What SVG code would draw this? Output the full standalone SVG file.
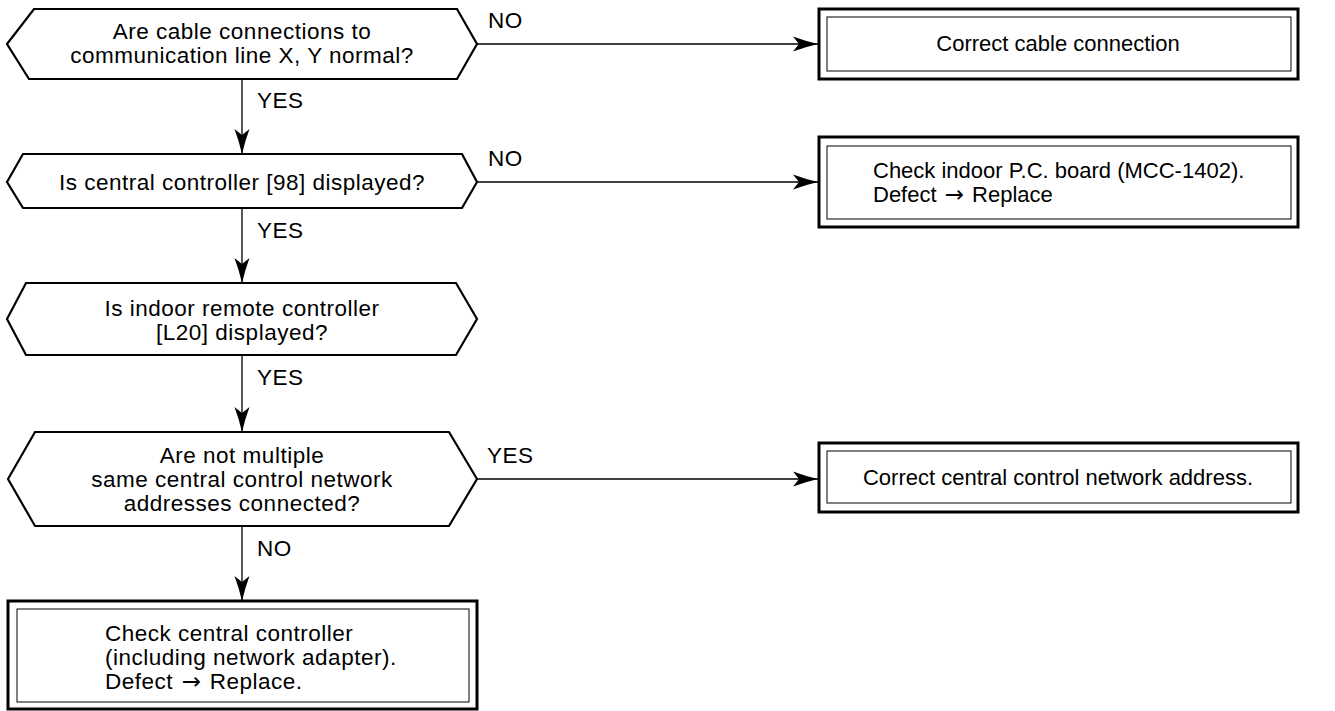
<svg xmlns="http://www.w3.org/2000/svg" width="1335" height="711" viewBox="0 0 1335 711">
  <style>
    .hex { fill: #fff; stroke: #000; stroke-width: 2.2; stroke-linejoin: miter; }
    .outer { fill: #fff; stroke: #000; stroke-width: 3; }
    .inner { fill: none; stroke: #000; stroke-width: 1; }
    .t { font-family: "Liberation Sans", Arial, Helvetica, sans-serif; font-size: 22.5px; letter-spacing: 0.5px; fill: #000; }
    .r { font-family: "Liberation Sans", Arial, Helvetica, sans-serif; font-size: 22px; fill: #000; }
    .c { text-anchor: middle; }
    .ar { font-family: "DejaVu Sans", sans-serif; font-size: 23px; letter-spacing: 0; }
    .edge { fill: none; stroke: #000; stroke-width: 1.3; }
  </style>
  <defs>
    <marker id="arrow" markerUnits="userSpaceOnUse" viewBox="0 0 25 16" refX="25" refY="8" markerWidth="25" markerHeight="16" orient="auto">
      <path d="M25,8 Q12,5 0,0.5 L6,8 L0,15.5 Q12,11 25,8 Z" fill="#000"/>
    </marker>
  </defs>

  <!-- connectors -->
  <g id="connectors">
    <line class="edge" x1="242" y1="79" x2="242" y2="154" marker-end="url(#arrow)"/>
    <line class="edge" x1="242" y1="208" x2="242" y2="283" marker-end="url(#arrow)"/>
    <line class="edge" x1="242" y1="355" x2="242" y2="432" marker-end="url(#arrow)"/>
    <line class="edge" x1="242" y1="526" x2="242" y2="601" marker-end="url(#arrow)"/>
    <line class="edge" x1="477" y1="44" x2="818" y2="44" marker-end="url(#arrow)"/>
    <line class="edge" x1="477" y1="182" x2="818" y2="182" marker-end="url(#arrow)"/>
    <line class="edge" x1="477" y1="479" x2="818" y2="479" marker-end="url(#arrow)"/>
    <text class="t" x="257" y="108">YES</text>
    <text class="t" x="257" y="238">YES</text>
    <text class="t" x="257" y="385">YES</text>
    <text class="t" x="257" y="556">NO</text>
    <text class="t" x="488" y="28">NO</text>
    <text class="t" x="488" y="166">NO</text>
    <text class="t" x="487" y="463">YES</text>
  </g>

  <!-- decision 1 -->
  <g id="q-cable">
    <polygon class="hex" points="7,44 34,9 457,9 477,44 457,79 29,79"/>
    <text class="t c" x="242" y="39">Are cable connections to</text>
    <text class="t c" x="242" y="63">communication line X, Y normal?</text>
  </g>

  <!-- decision 2 -->
  <g id="q-central98">
    <polygon class="hex" points="7,182 23,154 462,154 477,182 462,208 23,208"/>
    <text class="t c" x="242" y="190">Is central controller [98] displayed?</text>
  </g>

  <!-- decision 3 -->
  <g id="q-l20">
    <polygon class="hex" points="7,319 26,283 456,283 477,319 456,355 26,355"/>
    <text class="t c" x="242" y="316">Is indoor remote controller</text>
    <text class="t c" x="242" y="340">[L20] displayed?</text>
  </g>

  <!-- decision 4 -->
  <g id="q-address">
    <polygon class="hex" points="8,479 35,432 449,432 477,479 449,526 35,526"/>
    <text class="t c" x="242" y="463">Are not multiple</text>
    <text class="t c" x="242" y="487">same central control network</text>
    <text class="t c" x="242" y="511">addresses connected?</text>
  </g>

  <!-- action: cable -->
  <g id="a-cable">
    <rect class="outer" x="819" y="9" width="479" height="70"/>
    <rect class="inner" x="827" y="17" width="464" height="54"/>
    <text class="r c" x="1058" y="51">Correct cable connection</text>
  </g>

  <!-- action: indoor board -->
  <g id="a-board">
    <rect class="outer" x="819" y="137" width="479" height="90"/>
    <rect class="inner" x="827" y="146" width="464" height="73"/>
    <text class="r" x="873" y="178">Check indoor P.C. board (MCC-1402).</text>
    <text class="r" x="873" y="202">Defect <tspan class="ar" dx="2">→</tspan><tspan dx="2"> Replace</tspan></text>
  </g>

  <!-- action: network address -->
  <g id="a-address">
    <rect class="outer" x="819" y="443" width="479" height="69"/>
    <rect class="inner" x="827" y="451" width="464" height="52"/>
    <text class="r c" x="1058" y="485">Correct central control network address.</text>
  </g>

  <!-- action: central controller -->
  <g id="a-central">
    <rect class="outer" x="8" y="601" width="469" height="108"/>
    <rect class="inner" x="17" y="609" width="452" height="93"/>
    <text class="t" x="105" y="641">Check central controller</text>
    <text class="t" x="105" y="665">(including network adapter).</text>
    <text class="t" x="105" y="689">Defect <tspan class="ar" dx="2">→</tspan><tspan dx="2"> Replace.</tspan></text>
  </g>
</svg>
